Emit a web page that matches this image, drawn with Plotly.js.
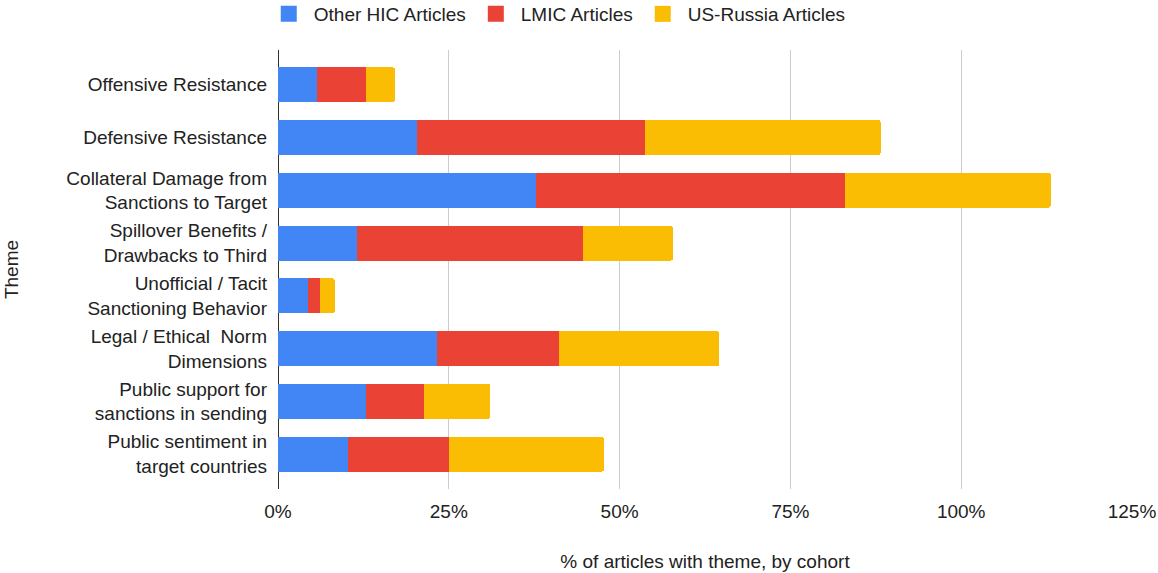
<!DOCTYPE html>
<html>
<head>
<meta charset="utf-8">
<script src="https://cdn.plot.ly/plotly-3.0.1.min.js"></script>
<style>html,body{margin:0;padding:0;background:#fff;}#chart{width:1158px;height:573px;}</style>
</head>
<body>
<div id="chart"></div>
<script>
const themes = [
  "Offensive Resistance",
  "Defensive Resistance",
  "Collateral Damage from<br>Sanctions to Target",
  "Spillover Benefits /<br>Drawbacks to Third",
  "Unofficial / Tacit<br>Sanctioning Behavior",
  "Legal / Ethical  Norm<br>Dimensions",
  "Public support for<br>sanctions in sending",
  "Public sentiment in<br>target countries"
];
const otherHIC = [5.7, 20.3, 37.7, 11.6, 4.4, 23.2, 12.9, 10.2];
const lmic     = [7.2, 33.4, 45.3, 33.1, 1.7, 18.0, 8.5, 14.9];
const usRussia = [4.2, 34.5, 30.1, 13.1, 2.2, 23.4, 9.7, 22.6];
const seriesNames = ["Other HIC Articles", "LMIC Articles", "US-Russia Articles"];
const colors = ["#4285F4", "#EA4335", "#FBBC04"];
const xTicks = [0, 25, 50, 75, 100, 125];
const xTickLabels = ["0%", "25%", "50%", "75%", "100%", "125%"];

const FONT = "Liberation Sans, Arial, sans-serif";
const FS = 19;
const TXT = "#222222";

const bars = [otherHIC, lmic, usRussia].map((vals, i) => ({
  type: "bar",
  orientation: "h",
  name: seriesNames[i],
  y: themes,
  x: vals,
  width: 0.66,
  showlegend: false,
  marker: {color: colors[i], line: {width: 0}}
}));
// legend entries with larger square swatches
const legendItems = seriesNames.map((n, i) => ({
  type: "scatter",
  mode: "markers",
  name: n,
  x: [null],
  y: [null],
  showlegend: true,
  marker: {symbol: "square", size: 18, color: colors[i]}
}));

const layout = {
  width: 1158,
  height: 573,
  margin: {l: 278, r: 26, t: 50, b: 84, autoexpand: false},
  paper_bgcolor: "#fff",
  plot_bgcolor: "#fff",
  barmode: "stack",
  barcornerradius: 2,
  font: {family: FONT, size: FS, color: TXT},
  showlegend: true,
  legend: {
    orientation: "h",
    xref: "paper", yref: "paper",
    x: 0.327, xanchor: "center",
    y: 1.082, yanchor: "middle",
    itemsizing: "trace",
    itemwidth: 40,
    font: {family: FONT, size: FS, color: TXT},
    traceorder: "normal"
  },
  xaxis: {
    range: [0, 125],
    tickvals: xTicks,
    ticktext: xTickLabels,
    showgrid: true,
    gridcolor: "#cccccc",
    gridwidth: 1,
    zeroline: true,
    zerolinecolor: "#333333",
    zerolinewidth: 1,
    showline: false,
    ticks: "",
    ticklabelstandoff: 9,
    tickfont: {family: FONT, size: FS, color: TXT},
    title: {text: "% of articles with theme, by cohort", font: {family: FONT, size: FS, color: TXT}, standoff: 33},
    fixedrange: true
  },
  yaxis: {
    type: "category",
    categoryorder: "array",
    categoryarray: themes,
    range: [7.66, -0.66],
    showgrid: false,
    zeroline: false,
    showline: false,
    ticks: "",
    ticklabelstandoff: 10,
    tickfont: {family: FONT, size: FS, color: TXT},
    title: {text: "Theme", font: {family: FONT, size: FS, color: TXT}, standoff: 42},
    fixedrange: true
  }
};

Plotly.newPlot("chart", bars.concat(legendItems), layout, {displayModeBar: false, staticPlot: true});
</script>
</body>
</html>
